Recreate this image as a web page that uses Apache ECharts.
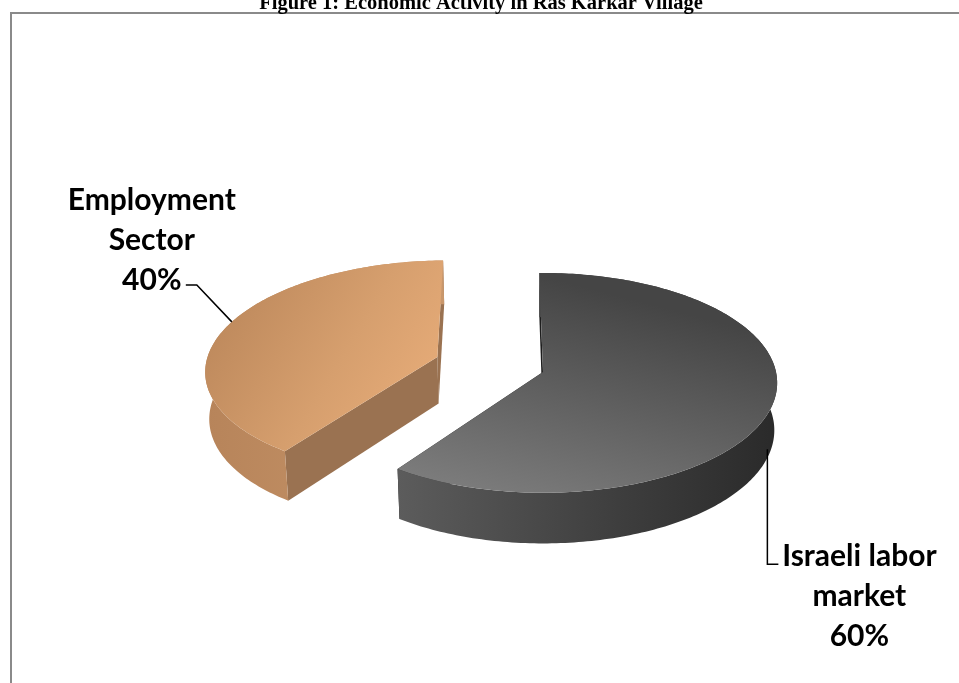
<!DOCTYPE html>
<html><head><meta charset="utf-8">
<script src="https://cdn.jsdelivr.net/npm/echarts@6/dist/echarts.min.js"></script>
<style>html,body{margin:0;padding:0;background:#fff}#c{width:959px;height:683px}</style>
</head><body><div id="c"></div>
<script>
// ---- data ----
const titleText = 'Figure 1: Economic Activity in Ras Karkar Village';
const categories = ['Israeli labor\nmarket', 'Employment\nSector'];
const values = [60, 40];

// ---- layout / view (not data) ----
const view = {cx: 543, cy: 372, R: 233, sinT: 0.467, cosT: 0.884, D: 2080, H: 54, start: -1};
const explode = [0, 112];
const labelLayout = [
  {anchorDeg: 110, anchorH: -0.8, path: [[0, 115], [11, 115]], text: [92, 147]},
  {anchorDeg: 290, anchorH: 0, path: [[-35, -37], [-46, -37]], text: [-80, -82]}
];
const LG = (x, y, x2, y2, stops) => new echarts.graphic.LinearGradient(x, y, x2, y2, stops.map((c, i) => ({offset: c[0], color: c[1]})));
const sliceStyles = [
  {
    top: LG(0.35, 0, 0.2, 1, [[0, '#454545'], [1, '#7c7c7c']]),
    wall: LG(0, 0, 1, 0, [[0, '#5c5c5c'], [0.6, '#3d3d3d'], [1, '#2a2a2a']]),
    side: '#1e1e1e'
  },
  {
    top: LG(0, 0.15, 1, 0.9, [[0, '#b98559'], [0.55, '#d69f6e'], [1, '#ebaf7b']]),
    wall: LG(0, 0, 1, 0, [[0, '#b7845a'], [1, '#c9976b']]),
    side: '#9a7251'
  }
];

const total = values.reduce((s, v) => s + v, 0);
const rad = d => d * Math.PI / 180;
function proj(a, b, h) {
  const depth = b * view.cosT + h * view.sinT;
  const k = view.D / (view.D - depth);
  return [view.cx + a * k, view.cy + (b * view.sinT - h * view.cosT) * k];
}

function renderItem(params, api) {
  const i = params.dataIndex;
  let acc = 0;
  for (let j = 0; j < i; j++) acc += values[j];
  const t0 = view.start + acc / total * 360;
  const t1 = view.start + (acc + values[i]) / total * 360;
  const mid = (t0 + t1) / 2;
  const d = explode[i];
  const ox = d * Math.sin(rad(mid)), oy = -d * Math.cos(rad(mid));
  const R = view.R, H = view.H;
  const rim = (t, h) => proj(ox + R * Math.sin(rad(t)), oy - R * Math.cos(rad(t)), h);
  const ctr = h => proj(ox, oy, h);
  const n = Math.ceil(t1 - t0);
  const arcTop = [], arcBot = [];
  for (let s = 0; s <= n; s++) {
    const t = t0 + (t1 - t0) * s / n;
    arcTop.push(rim(t, 0));
    arcBot.push(rim(t, -H));
  }
  const st = sliceStyles[i];
  const L = labelLayout[i];
  const anc = rim(L.anchorDeg, L.anchorH * H);
  const pts = [anc].concat(L.path.map(p => [anc[0] + p[0], anc[1] + p[1]]));
  const pct = Math.round(api.value(0) / total * 100) + '%';
  return {
    type: 'group',
    children: [
      {type: 'polygon', shape: {points: [ctr(0), rim(t0, 0), rim(t0, -H), ctr(-H)]}, style: {fill: st.side}},
      {type: 'polygon', shape: {points: [ctr(0), rim(t1, 0), rim(t1, -H), ctr(-H)]}, style: {fill: st.side}},
      {type: 'polygon', shape: {points: arcTop.concat(arcBot.slice().reverse())}, style: {fill: st.wall}},
      {type: 'polygon', shape: {points: [ctr(0)].concat(arcTop)}, style: {fill: st.top}},
      {type: 'polyline', shape: {points: pts}, style: {stroke: '#000', lineWidth: 1.5, fill: null}},
      {type: 'text', x: anc[0] + L.text[0], y: anc[1] + L.text[1],
       style: {text: categories[i] + '\n' + pct, fill: '#000', font: 'bold 30px Lato', align: 'center', verticalAlign: 'middle', lineHeight: 40}}
    ]
  };
}

const chart = echarts.init(document.getElementById('c'), null, {renderer: 'canvas'});
chart.setOption({
  animation: false,
  backgroundColor: '#fff',
  graphic: [
    {type: 'rect', z: -10, shape: {x: 11, y: 13, width: 1000, height: 800}, style: {fill: null, stroke: '#8a8a8a', lineWidth: 2}},
    {type: 'text', x: 481, y: 14, style: {text: titleText, font: 'bold 20.5px "Liberation Serif"', fill: '#000', align: 'center', verticalAlign: 'bottom'}}
  ],
  series: [{
    type: 'custom',
    coordinateSystem: 'none',
    data: values.map((v, i) => ({name: categories[i], value: v})),
    renderItem: renderItem
  }]
});
</script>
</body></html>
